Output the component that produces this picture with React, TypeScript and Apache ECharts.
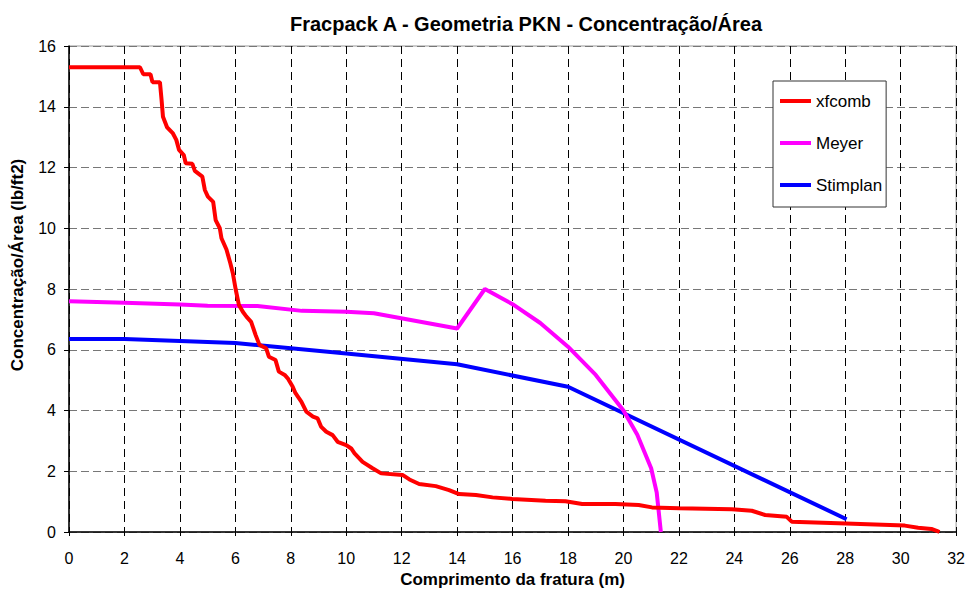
import React, { useEffect, useRef } from "react";
import * as echarts from "echarts";

const xfcomb: [number, number][] = [
  [0, 15.3], [2.56, 15.3], [2.68, 15.07], [2.94, 15.07], [3.01, 14.81], [3.28, 14.81],
  [3.34, 14.22], [3.39, 13.67], [3.54, 13.32], [3.75, 13.12], [3.87, 12.91], [3.97, 12.58],
  [4.14, 12.41], [4.21, 12.14], [4.45, 12.12], [4.54, 11.89], [4.81, 11.7], [4.9, 11.26],
  [5.01, 11.04], [5.2, 10.87], [5.29, 10.27], [5.44, 10.0], [5.5, 9.67], [5.68, 9.3],
  [5.82, 8.85], [5.91, 8.52], [6.01, 8.0], [6.13, 7.47], [6.27, 7.25], [6.4, 7.09],
  [6.57, 6.92], [6.73, 6.49], [6.87, 6.16], [7.11, 6.05], [7.21, 5.77], [7.45, 5.66],
  [7.57, 5.28], [7.78, 5.17], [7.89, 5.06], [8.07, 4.78], [8.17, 4.57], [8.38, 4.29],
  [8.56, 3.96], [8.8, 3.8], [8.97, 3.74], [9.09, 3.47], [9.28, 3.3], [9.51, 3.19],
  [9.69, 2.97], [10.0, 2.86], [10.18, 2.75], [10.3, 2.59], [10.59, 2.31], [10.95, 2.1],
  [11.26, 1.93], [12.03, 1.88], [12.28, 1.73], [12.63, 1.58], [13.23, 1.51], [13.71, 1.38],
  [14.07, 1.25], [14.68, 1.22], [15.28, 1.14], [15.99, 1.09], [17.19, 1.03], [17.91, 1.01],
  [18.51, 0.92], [19.71, 0.92], [20.55, 0.89], [21.03, 0.81], [22.0, 0.78], [23.91, 0.75],
  [24.63, 0.7], [25.11, 0.56], [25.89, 0.5], [26.07, 0.34], [27.75, 0.29], [30.15, 0.21],
  [30.63, 0.14], [31.11, 0.1], [31.3, 0.04], [31.4, 0.0],
];

const meyer: [number, number][] = [
  [0, 7.6], [2, 7.55], [4, 7.49], [5, 7.45], [6.8, 7.44], [8.4, 7.28], [10, 7.25],
  [11, 7.2], [14, 6.7], [15, 8.0], [16, 7.5], [17, 6.88], [18, 6.1], [19, 5.17],
  [20, 4.0], [20.5, 3.2], [21, 2.1], [21.2, 1.3], [21.35, 0],
];

const stimplan: [number, number][] = [
  [0, 6.35], [2, 6.35], [6, 6.22], [10, 5.88], [14, 5.52], [18, 4.78], [28.05, 0.42],
];

const seriesNames = ["xfcomb", "Meyer", "Stimplan"];
const seriesColors = ["#ff0000", "#ff00ff", "#0000ff"];

const FONT = "Liberation Sans, Arial, sans-serif";

export default function App() {
  const ref = useRef<HTMLDivElement>(null);
  useEffect(() => {
    if (!ref.current) return;
    const chart = echarts.init(ref.current, null, { renderer: "svg" });
    const datasets = [xfcomb, meyer, stimplan];
    chart.setOption({
      animation: false,
      backgroundColor: "#ffffff",
      title: {
        text: "Fracpack A - Geometria PKN - Concentração/Área",
        left: 285,
        top: 9,
        textStyle: { fontFamily: FONT, fontSize: 20, fontWeight: "bold", color: "#000" },
      },
      legend: {
        orient: "vertical",
        left: 773,
        top: 81,
        data: seriesNames,
        icon: "rect",
        itemWidth: 31,
        itemHeight: 4,
        itemGap: 20,
        padding: [9, 4, 11, 7],
        borderColor: "#333",
        borderWidth: 1,
        backgroundColor: "#fff",
        textStyle: { fontFamily: FONT, fontSize: 17, color: "#000", padding: [4, 0, 0, 0], lineHeight: 18 },
      },
      grid: {
        left: 69,
        top: 46,
        right: 10,
        bottom: 66,
        show: true,
        borderColor: "#999",
        borderWidth: 1,
        backgroundColor: "transparent",
      },
      xAxis: {
        type: "value",
        min: 0,
        max: 32,
        interval: 2,
        name: "Comprimento da fratura (m)",
        nameLocation: "middle",
        nameGap: 38,
        nameTextStyle: { fontFamily: FONT, fontSize: 17, fontWeight: "bold", color: "#000" },
        axisLine: { show: true, lineStyle: { color: "#000", width: 1.5 } },
        axisTick: { show: true, length: 4, lineStyle: { color: "#000" } },
        axisLabel: { fontFamily: FONT, fontSize: 16, color: "#000", margin: 18 },
        splitLine: { show: true, lineStyle: { color: "#000", type: [8, 5], width: 1 } },
      },
      yAxis: {
        type: "value",
        min: 0,
        max: 16,
        interval: 2,
        name: "Concentração/Área (lb/ft2)",
        nameLocation: "middle",
        nameGap: 43,
        nameTextStyle: {
          fontFamily: FONT, fontSize: 17, fontWeight: "bold", color: "#000",
          padding: [0, 0, 0, 48],
        },
        axisLine: { show: true, lineStyle: { color: "#000", width: 1.5 } },
        axisTick: { show: true, length: 5, lineStyle: { color: "#000" } },
        axisLabel: { fontFamily: FONT, fontSize: 16, color: "#000", margin: 13 },
        splitLine: { show: true, lineStyle: { color: "#777", type: [8, 4], width: 1 } },
      },
      series: datasets.map((d, i) => ({
        name: seriesNames[i],
        type: "line",
        data: d,
        showSymbol: false,
        symbol: "none",
        color: seriesColors[i],
        lineStyle: { color: seriesColors[i], width: 4 },
        z: 5 - i,
      })),
    });
    return () => chart.dispose();
  }, []);
  return <div ref={ref} style={{ position: "fixed", left: 0, top: 0, width: 968, height: 598 }} />;
}
